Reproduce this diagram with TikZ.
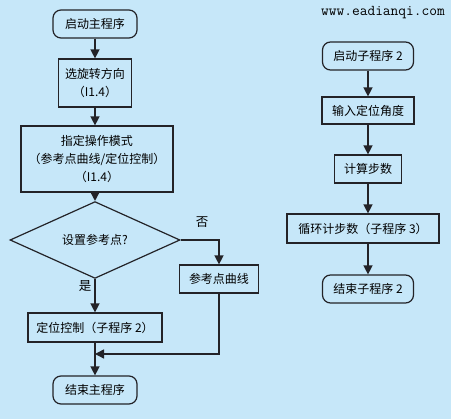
\documentclass[tikz,border=0pt]{standalone}
\usepackage{xcolor}
\usepackage{fontspec}
\setmainfont{Noto Sans CJK SC}
\usepackage{tikz}
\usetikzlibrary{shapes.geometric, arrows.meta, positioning, calc}
\definecolor{mybg}{RGB}{198,231,249}
\definecolor{mydark}{RGB}{35,35,40}
\tikzset{
  termnode/.style={rectangle, draw=mydark, rounded corners=8pt,
    align=center, inner sep=0pt, line width=1.2pt,
    font=\fontsize{12}{18}\selectfont},
  procbox/.style={rectangle, draw=mydark,
    align=center, inner sep=0pt, line width=1.2pt,
    font=\fontsize{12}{18}\selectfont},
  decision/.style={diamond, draw=mydark, inner sep=0pt,
    line width=1.2pt, font=\fontsize{12}{18}\selectfont},
  flowarrow/.style={-{Triangle[length=9pt, width=9pt]}, line width=1.4pt, color=mydark},
  line/.style={line width=1.4pt, color=mydark},
  lbl/.style={font=\fontsize{12.5}{14}\selectfont},
  urltext/.style={font=\ttfamily\fontsize{15}{16}\selectfont}
}

\begin{document}
\begin{tikzpicture}[x=1pt, y=-1pt]
  % background
  \fill[mybg] (0,0) rectangle (451,419);

  % main program
  \node[termnode, minimum width=84pt, minimum height=28pt] (mstart) at (95,24) {启动主程序};
  \node[procbox, minimum width=73pt, minimum height=48pt] (dir) at (95,83) {选旋转方向\\（I1.4）};
  \node[procbox, minimum width=152pt, minimum height=66pt] (mode) at (97,159) {指定操作模式\\（参考点曲线/定位控制）\\（I1.4）};
  \node[decision, minimum width=170pt, minimum height=56pt] (dec) at (95,240) {设置参考点?};
  \node[procbox, minimum width=79pt, minimum height=28pt] (curve) at (219,279) {参考点曲线};
  \node[procbox, minimum width=134pt, minimum height=29pt] (loc) at (95,327.5) {定位控制（子程序 2）};
  \node[termnode, minimum width=84pt, minimum height=28pt] (mend) at (95,390) {结束主程序};
  \node[lbl] (no) at (202,222) {否};
  \node[lbl] (yes) at (85,286) {是};
  \coordinate (join) at (95,354);

  \draw[flowarrow] (mstart) -- (dir);
  \draw[flowarrow] (dir) -- (dir |- mode.north);
  \draw[flowarrow] (dir |- mode.south) -- (dec);
  \draw[flowarrow] (dec.east) -| (curve.north);
  \draw[flowarrow] (dec) -- (loc);
  \draw[flowarrow] (curve.south) |- (join);
  \draw[flowarrow] (loc) -- (mend);

  % subprogram 2
  \node[urltext] (url) at (383,13) {www.eadianqi.com};
  \node[termnode, minimum width=91pt, minimum height=28pt] (sstart) at (368,56) {启动子程序 2};
  \node[procbox, minimum width=92pt, minimum height=27pt] (angle) at (368,110.5) {输入定位角度};
  \node[procbox, minimum width=67pt, minimum height=28pt] (steps) at (368,169) {计算步数};
  \node[procbox, minimum width=152pt, minimum height=29pt] (loop) at (363,228.5) {循环计步数（子程序 3）};
  \node[termnode, minimum width=91pt, minimum height=28pt] (send) at (368,289) {结束子程序 2};

  \draw[flowarrow] (sstart) -- (angle);
  \draw[flowarrow] (angle) -- (steps);
  \draw[flowarrow] (steps) -- (steps |- loop.north);
  \draw[flowarrow] (steps |- loop.south) -- (send);
\end{tikzpicture}
\end{document}
